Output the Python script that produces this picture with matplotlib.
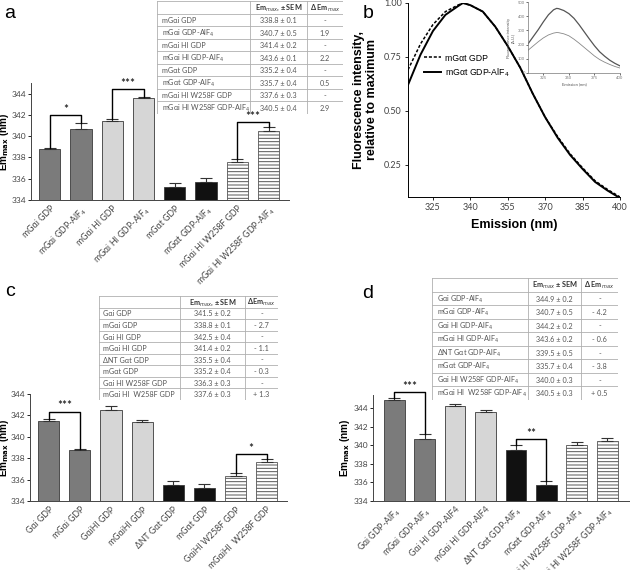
import matplotlib
matplotlib.use("Agg")
import matplotlib.pyplot as plt

plt.rcParams["font.family"] = ["Lato", "DejaVu Sans"]
plt.rcParams["mathtext.fontset"] = "dejavusans"
plt.rcParams["hatch.linewidth"] = 0.7

# ---------------------------------------------------------------
# Datos
# ---------------------------------------------------------------

# Panel a
a_ticks = ["mGαi GDP", "mGαi GDP-AlF$_4$", "mGαi HI GDP", "mGαi HI GDP-AlF$_4$",
           "mGαt GDP", "mGαt GDP-AlF$_4$", "mGαi HI W258F GDP", "mGαi HI W258F GDP-AlF$_4$"]
a_table_names = a_ticks
a_values = [338.8, 340.7, 341.4, 343.6, 335.2, 335.7, 337.6, 340.5]
a_sem = [0.1, 0.5, 0.2, 0.1, 0.4, 0.4, 0.3, 0.4]
a_delta = ["-", "1.9", "-", "2.2", "-", "0.5", "-", "2.9"]
a_brackets = [(0, 1, 342.0, "*"), (2, 3, 344.4, "***"), (6, 7, 341.3, "***")]

# Panel b (espectros normalizados)
b_wavelength = [315, 320, 325, 330, 335, 337, 340, 345, 350, 355, 360, 365, 370,
                375, 380, 385, 390, 395, 400]
b_gdp = [0.69, 0.81, 0.90, 0.96, 0.99, 1.00, 0.99, 0.96, 0.89, 0.80, 0.70, 0.58,
         0.47, 0.38, 0.30, 0.235, 0.175, 0.135, 0.10]
b_alf4 = [0.62, 0.76, 0.87, 0.945, 0.985, 1.00, 0.99, 0.96, 0.89, 0.80, 0.70, 0.58,
          0.47, 0.375, 0.295, 0.23, 0.17, 0.13, 0.095]
b_labels = ["mGαt GDP", "mGαt GDP-AlF$_4$"]

# Inset panel b (intensidad absoluta)
inset_wavelength = [310, 315, 320, 325, 330, 335, 338, 340, 345, 350, 355, 360, 365,
                    370, 375, 380, 385, 390, 395, 400]
inset_upper = [205, 255, 305, 360, 410, 445, 455, 453, 440, 418, 385, 340, 290,
               240, 192, 150, 118, 90, 68, 50]
inset_lower = [160, 190, 220, 247, 268, 281, 285, 284, 276, 262, 238, 210, 180,
               150, 120, 95, 76, 60, 46, 35]

# Panel c
c_ticks = ["Gαi GDP", "mGαi GDP", "GαiHI GDP", "mGαiHI GDP", "ΔNT Gαt GDP",
           "mGαt GDP", "GαiHI W258F GDP", "mGαiHI  W258F GDP"]
c_table_names = ["Gαi GDP", "mGαi GDP", "Gαi HI GDP", "mGαi HI GDP", "ΔNT Gαt GDP",
                 "mGαt GDP", "Gαi HI W258F GDP", "mGαi HI  W258F GDP"]
c_values = [341.5, 338.8, 342.5, 341.4, 335.5, 335.2, 336.3, 337.6]
c_sem = [0.2, 0.1, 0.4, 0.2, 0.4, 0.4, 0.3, 0.3]
c_delta = ["-", "- 2.7", "-", "- 1.1", "-", "- 0.3", "-", "+ 1.3"]
c_brackets = [(0, 1, 342.35, "***"), (6, 7, 338.4, "*")]

# Panel d
d_ticks = ["Gαi GDP-AlF$_4$", "mGαi GDP-AlF$_4$", "Gαi HI GDP-AlF4", "mGαi HI GDP-AlF4",
           "ΔNT Gαt GDP-AlF$_4$", "mGαt GDP-AlF$_4$", "Gαi HI W258F GDP-AlF$_4$",
           "mGαi HI W258F GDP-AlF$_4$"]
d_table_names = ["Gαi GDP-AlF$_4$", "mGαi GDP-AlF$_4$", "Gαi HI GDP-AlF$_4$",
                 "mGαi HI GDP-AlF$_4$", "ΔNT Gαt GDP-AlF$_4$", "mGαt GDP-AlF$_4$",
                 "Gαi HI W258F GDP-AlF$_4$", "mGαi HI  W258F GDP-AlF$_4$"]
d_values = [344.9, 340.7, 344.2, 343.6, 339.5, 335.7, 340.0, 340.5]
d_sem = [0.2, 0.5, 0.2, 0.2, 0.5, 0.4, 0.3, 0.3]
d_delta = ["-", "- 4.2", "-", "- 0.6", "-", "- 3.8", "-", "+ 0.5"]
d_brackets = [(0, 1, 345.75, "***"), (4, 5, 340.67, "**")]

# Estilo de las barras (por posición)
bar_colors = ["#7b7b7b", "#7b7b7b", "#d6d6d6", "#d6d6d6", "#111111", "#111111", "white", "white"]
bar_hatches = [None, None, None, None, None, None, "-----", "-----"]

W, H = 630, 570


def px_rect(x0, y0, x1, y1):
    """Convierte un rectángulo en píxeles (origen arriba-izquierda) a coords de figura."""
    return [x0 / W, 1 - y1 / H, (x1 - x0) / W, (y1 - y0) / H]


def dibujar_barras(ax, values, sem, ticks, ylim, brackets, xlim, label_x):
    x = range(len(values))
    for i in x:
        ax.bar(i, values[i] - ylim[0], bottom=ylim[0], width=0.68,
               color=bar_colors[i], edgecolor="#555555" if bar_hatches[i] else "#3a3a3a",
               linewidth=0.6, hatch=bar_hatches[i], zorder=2)
        ax.errorbar(i, values[i], yerr=[[0], [sem[i]]], color="#333333",
                    elinewidth=0.8, capsize=4.5, capthick=0.8, zorder=3)
    for (i, j, h, lab) in brackets:
        ax.plot([i, i, j, j], [values[i] + sem[i], h, h, values[j] + sem[j]],
                color="black", lw=1.0, clip_on=False, zorder=4)
        ax.text((i + j) / 2, h + 0.02, lab, ha="center", va="bottom", fontsize=8.5,
                clip_on=False)
    ax.set_xlim(*xlim)
    ax.set_ylim(*ylim)
    ax.set_yticks(range(334, 345, 2))
    ax.set_xticks(list(x))
    ax.set_xticklabels(ticks, rotation=45, ha="right", rotation_mode="anchor",
                       fontsize=6.3, color="#444444")
    ax.tick_params(axis="y", labelsize=6.0, labelcolor="#444444", length=2.5, width=0.6,
                   pad=1.0)
    ax.tick_params(axis="x", length=0, pad=3)
    for s in ["top", "right"]:
        ax.spines[s].set_visible(False)
    for s in ["left", "bottom"]:
        ax.spines[s].set_linewidth(0.7)
        ax.spines[s].set_color("#444444")
    ax.set_ylabel("Em$_{\\mathbf{max}}$ (nm)", fontsize=7.2, fontweight="bold",
                  family="Liberation Sans")
    ax.yaxis.set_label_coords(label_x, 0.5)


def dibujar_tabla(fig, rect, header, names, values, sem, deltas, cols):
    ax = fig.add_axes(rect)
    ax.set_xlim(0, 1)
    n = len(names) + 1
    ax.set_ylim(n, 0)
    ax.axis("off")
    lc = "#b0b0b0"
    fs = 5.2
    for r in range(n + 1):
        ax.plot([0, 1], [r, r], color=lc, lw=0.6)
    for c in cols + [0, 1]:
        ax.plot([c, c], [0, n], color=lc, lw=0.6)
    ax.text((cols[0] + cols[1]) / 2, 0.55, header[0], ha="center", va="center",
            fontsize=fs, color="#333333", fontweight="bold")
    ax.text((cols[1] + 1) / 2, 0.55, header[1], ha="center", va="center",
            fontsize=fs, color="#333333", fontweight="bold")
    for k, name in enumerate(names):
        r = k + 1.55
        ax.text(0.025, r, name, ha="left", va="center", fontsize=fs, color="#555555")
        ax.text((cols[0] + cols[1]) / 2, r, f"{values[k]:.1f} ± {sem[k]:.1f}",
                ha="center", va="center", fontsize=fs, color="#555555")
        ax.text((cols[1] + 1) / 2, r, deltas[k], ha="center", va="center",
                fontsize=fs, color="#555555")


fig = plt.figure(figsize=(6.3, 5.7), dpi=100)

# ===================================================================
# Panel a
# ===================================================================
ax_a = fig.add_axes(px_rect(31, 83, 289, 200))
dibujar_barras(ax_a, a_values, a_sem, a_ticks, (334, 345), a_brackets, (-0.6, 7.65),
               (11.5 - 31) / 258)
dibujar_tabla(fig, px_rect(157, 1, 343, 114), ["Em$_{max}$, ± SEM", "Δ Em$_{max}$"],
              a_table_names, a_values, a_sem, a_delta,
              [(250 - 157) / 186, (307 - 157) / 186])

# ===================================================================
# Panel b
# ===================================================================
ax_b = fig.add_axes(px_rect(408, 3, 620, 197))
ax_b.plot(b_wavelength, b_gdp, color="black", lw=1.1, ls=(0, (2, 1.2)), label=b_labels[0])
ax_b.plot(b_wavelength, b_alf4, color="black", lw=1.4, label=b_labels[1])
ax_b.set_xlim(315, 400)
ax_b.set_ylim(0.1, 1.0)
ax_b.set_xticks([325, 340, 355, 370, 385, 400])
ax_b.set_yticks([0.25, 0.50, 0.75, 1.00])
ax_b.set_yticklabels(["0.25", "0.50", "0.75", "1.00"])
ax_b.tick_params(labelsize=6.5, labelcolor="#444444", length=2.5, width=0.6, pad=2)
for s in ["top", "right"]:
    ax_b.spines[s].set_visible(False)
for s in ["left", "bottom"]:
    ax_b.spines[s].set_linewidth(0.7)
ax_b.set_xlabel("Emission (nm)", fontsize=9, fontweight="bold", family="Liberation Sans",
                labelpad=5)
ax_b.set_ylabel("Fluorescence intensity,\nrelative to maximum", fontsize=9,
                fontweight="bold", family="Liberation Sans", labelpad=4)
ax_b.legend(loc="upper left", bbox_to_anchor=(0.04, 0.78), frameon=False,
            handlelength=1.9, handletextpad=0.5, labelspacing=0.4,
            prop={"family": "Liberation Sans", "size": 6.3})

# Inset
ax_in = fig.add_axes(px_rect(528, 2, 620, 73))
ax_in.plot(inset_wavelength, inset_upper, color="#555555", lw=0.9)
ax_in.plot(inset_wavelength, inset_lower, color="#888888", lw=0.6)
ax_in.set_xlim(310, 400)
ax_in.set_ylim(0, 500)
ax_in.set_xticks([325, 350, 375, 400])
ax_in.set_yticks([0, 100, 200, 300, 400, 500])
ax_in.tick_params(labelsize=3, labelcolor="#777777", length=1.2, width=0.4, pad=1)
for s in ["top", "right"]:
    ax_in.spines[s].set_visible(False)
for s in ["left", "bottom"]:
    ax_in.spines[s].set_linewidth(0.5)
    ax_in.spines[s].set_color("#777777")
ax_in.set_xlabel("Emission (nm)", fontsize=3, labelpad=1.5, color="#555555")
ax_in.set_ylabel("Fluorescence intensity\n(A.U.)", fontsize=3, labelpad=1.5, color="#555555")

# ===================================================================
# Panel c
# ===================================================================
ax_c = fig.add_axes(px_rect(30, 394, 287, 501))
dibujar_barras(ax_c, c_values, c_sem, c_ticks, (334, 344), c_brackets, (-0.6, 7.65),
               (11.5 - 30) / 257)
dibujar_tabla(fig, px_rect(99, 296, 278, 400), ["Em$_{max}$, ± SEM", "ΔEm$_{max}$"],
              c_table_names, c_values, c_sem, c_delta,
              [(180 - 99) / 179, (245 - 99) / 179])

# ===================================================================
# Panel d
# ===================================================================
ax_d = fig.add_axes(px_rect(373, 395, 630, 501))
dibujar_barras(ax_d, d_values, d_sem, d_ticks, (334, 345.4), d_brackets, (-0.7, 7.75),
               (352 - 373) / 257)
dibujar_tabla(fig, px_rect(432, 278, 618, 400), ["Em$_{max}$ ± SEM", "Δ Em$_{max}$"],
              d_table_names, d_values, d_sem, d_delta,
              [(528 - 432) / 186, (581 - 432) / 186])

# Letras de panel
for lab, (px, py) in {"a": (10, 14), "b": (368, 14), "c": (10, 292), "d": (368, 294)}.items():
    fig.text(px / W, 1 - py / H, lab, fontsize=14, family="Liberation Sans",
             ha="center", va="center")

fig.savefig("out.png", dpi=100)
